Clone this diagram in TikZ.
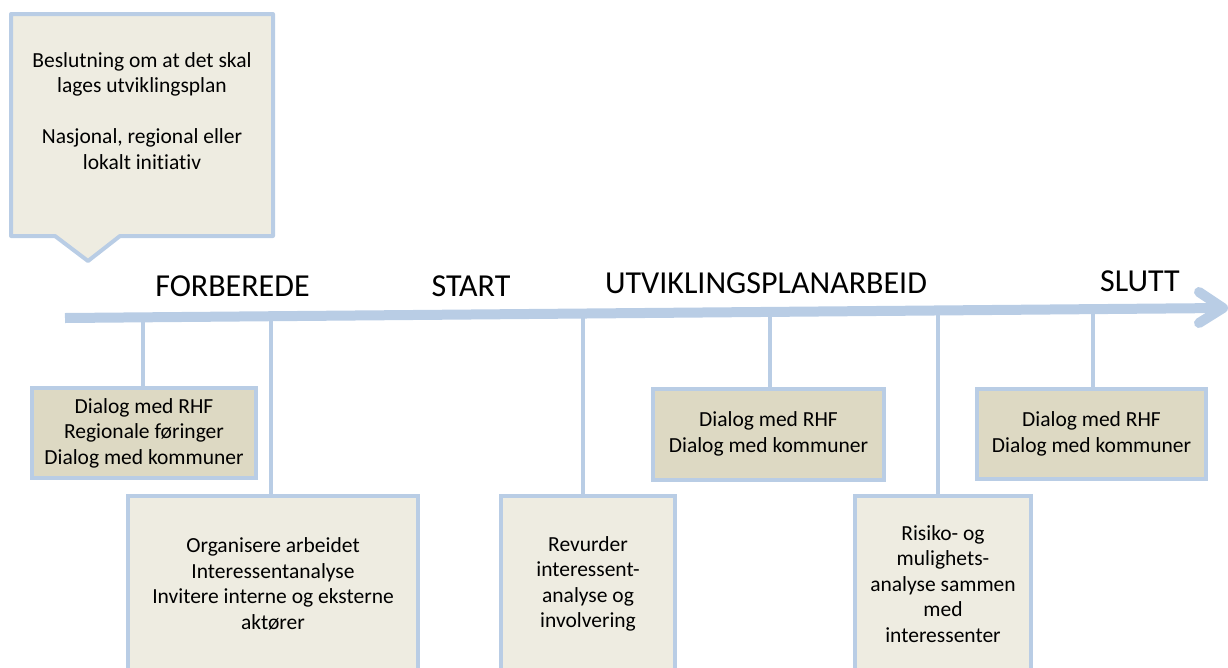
\documentclass[tikz,border=0pt]{standalone}
\usepackage{fontspec}
\setmainfont{Carlito}[Ligatures=NoCommon]
\usetikzlibrary{calc}
\definecolor{frameblue}{HTML}{B9CDE5}
\definecolor{lightfill}{HTML}{EEECE1}
\definecolor{dialogfill}{HTML}{DDD9C3}
\tikzset{
  box/.style={draw=frameblue, line width=4pt, fill=lightfill, align=center,
    font=\fontsize{21.5pt}{25.5pt}\selectfont, inner sep=0pt},
  dialogbox/.style={box, fill=dialogfill},
  phase/.style={font=\fontsize{32pt}{36pt}\selectfont, anchor=base},
  link/.style={draw=frameblue, line width=4pt},
  axis/.style={draw=frameblue, line width=10pt}
}

\begin{document}
\begin{tikzpicture}[x=1pt,y=-1pt]
      \useasboundingbox (0,0) rectangle (1228,667);
      \clip (0,0) rectangle (1228,667);
      % callout at the start
      \draw[link, fill=lightfill, line join=round] (11,14) -- (273,14) -- (273,236) -- (120,236)
        -- (88,261) -- (55,236) -- (11,236) -- cycle;
      \node[align=center, font=\fontsize{21.5pt}{25.5pt}\selectfont] (start) at (142,111)
        {Beslutning om at det skal\\lages utviklingsplan\\[25.5pt]Nasjonal, regional eller\\lokalt initiativ};
      % boxes
      \node[dialogbox, minimum width=224pt, minimum height=90pt] (dlgA) at (144,433)
        {Dialog med RHF\\Regionale føringer\\Dialog med kommuner};
      \node[box, minimum width=290pt, minimum height=176pt] (org) at (273,584)
        {Organisere arbeidet\\Interessentanalyse\\Invitere interne og eksterne\\aktører};
      \node[box, minimum width=174pt, minimum height=176pt] (rev) at (588,584)
        {Revurder\\interessent-\\analyse og\\involvering};
      \node[dialogbox, minimum width=231pt, minimum height=91pt] (dlgB) at (768.5,434)
        {Dialog med RHF\\Dialog med kommuner};
      \node[box, minimum width=176pt, minimum height=176pt] (risk) at (943,584)
        {Risiko- og\\mulighets-\\analyse sammen\\med\\interessenter};
      \node[dialogbox, minimum width=229pt, minimum height=90pt] (dlgC) at (1091.5,434)
        {Dialog med RHF\\Dialog med kommuner};
      % connectors from the time line
      \coordinate (t1) at (143,317);
      \coordinate (t2) at (271,316);
      \coordinate (t3) at (583,313);
      \coordinate (t4) at (770,311);
      \coordinate (t5) at (938,310);
      \coordinate (t6) at (1093,308);
      \draw[link] (t1) -- (t1 |- dlgA.north);
      \draw[link] (t2) -- (t2 |- org.north);
      \draw[link] (t3) -- (t3 |- rev.north);
      \draw[link] (t4) -- (t4 |- dlgB.north);
      \draw[link] (t5) -- (t5 |- risk.north);
      \draw[link] (t6) -- (t6 |- dlgC.north);
      % time line
      \coordinate (axL) at (65,318);
      \coordinate (axR) at (1223,308);
      \draw[axis] (axL) -- (axR);
      \draw[axis, line cap=round, line join=round] ($(axR)+(-24,-16)$) -- (axR) -- ($(axR)+(-24,15)$);
      % phases
      \node[phase] (forb) at (232.5,296) {FORBEREDE};
      \node[phase] (strt) at (471,296) {START};
      \node[phase] (utv) at (766,293) {UTVIKLINGSPLANARBEID};
      \node[phase] (slutt) at (1140,291) {SLUTT};
\end{tikzpicture}
\end{document}
